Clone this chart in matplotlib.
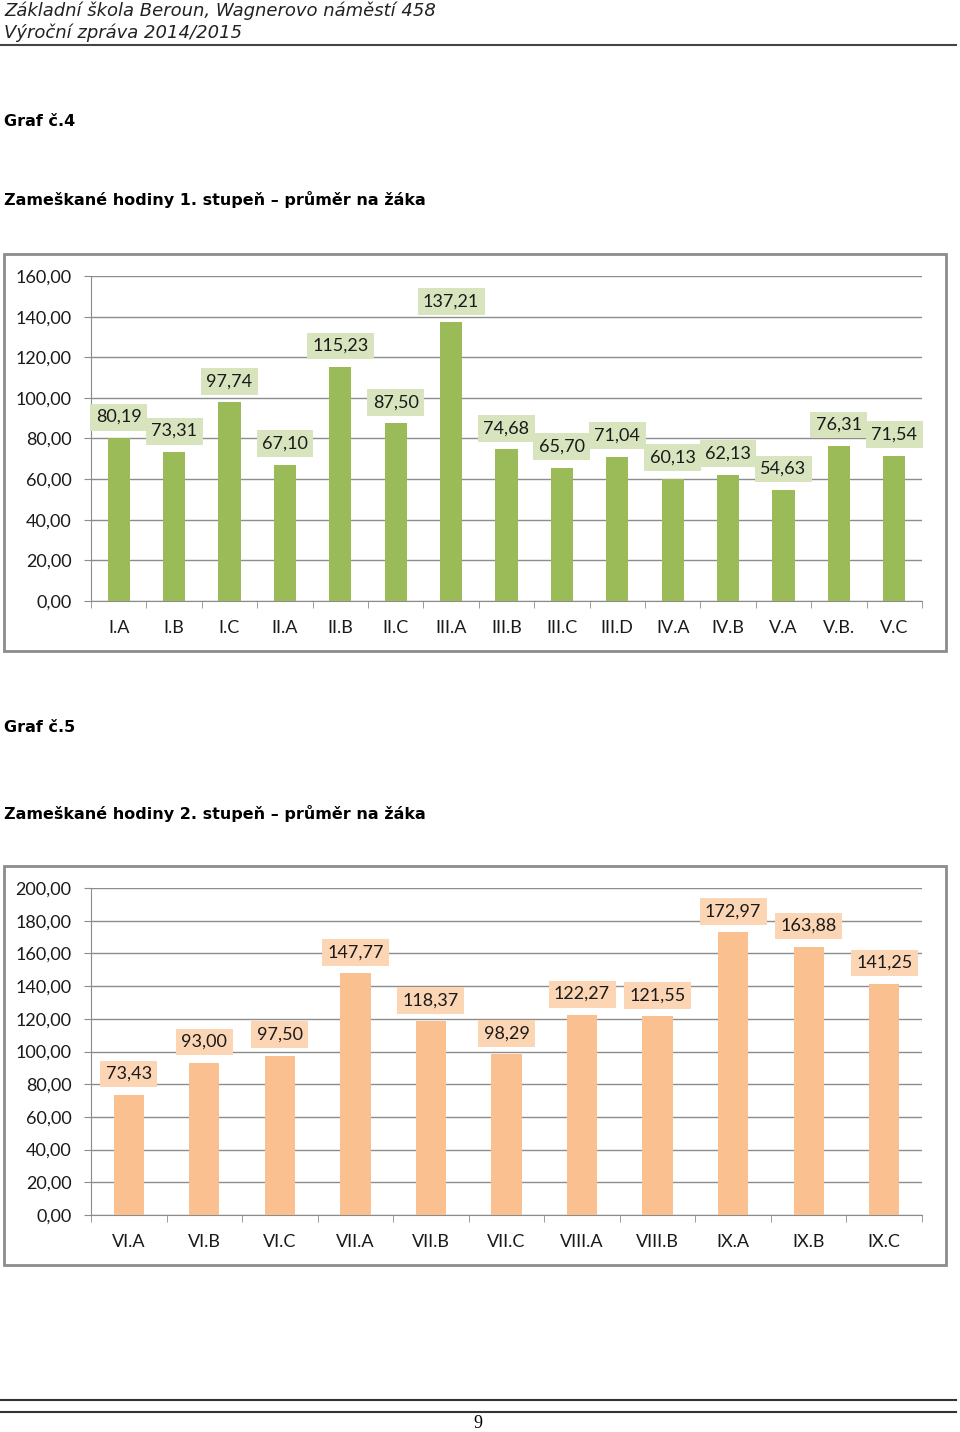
import matplotlib.pyplot as plt
from matplotlib.patches import Rectangle
from matplotlib.lines import Line2D

# data - graph 4 (1st stage)
classes_1 = ['I.A', 'I.B', 'I.C', 'II.A', 'II.B', 'II.C', 'III.A', 'III.B', 'III.C',
             'III.D', 'IV.A', 'IV.B', 'V.A', 'V.B.', 'V.C']
hours_1 = [80.19, 73.31, 97.74, 67.10, 115.23, 87.50, 137.21, 74.68, 65.70,
           71.04, 60.13, 62.13, 54.63, 76.31, 71.54]
yticks_1 = [0, 20, 40, 60, 80, 100, 120, 140, 160]

# data - graph 5 (2nd stage)
classes_2 = ['VI.A', 'VI.B', 'VI.C', 'VII.A', 'VII.B', 'VII.C', 'VIII.A', 'VIII.B',
             'IX.A', 'IX.B', 'IX.C']
hours_2 = [73.43, 93.00, 97.50, 147.77, 118.37, 98.29, 122.27, 121.55, 172.97, 163.88, 141.25]
yticks_2 = [0, 20, 40, 60, 80, 100, 120, 140, 160, 180, 200]

W, H = 960, 1432
fig = plt.figure(figsize=(W / 100, H / 100), dpi=100)
fig.patch.set_facecolor('white')

def fx(px):
    return px / W

def fy(py):
    return 1 - py / H

def cz(v):
    return f"{v:.2f}".replace('.', ',')

# page header
fig.text(fx(4), fy(11), 'Základní škola Beroun, Wagnerovo náměstí 458', fontsize=13,
         style='italic', family='DejaVu Sans', va='center', color='#222222')
fig.text(fx(4), fy(33), 'Výroční zpráva 2014/2015', fontsize=13,
         style='italic', family='DejaVu Sans', va='center', color='#222222')
fig.add_artist(Line2D([0, fx(956)], [fy(45), fy(45)], color='#444444', lw=1.5))

# captions
fig.text(fx(4), fy(122), 'Graf č.4', fontsize=11.5, weight='bold', family='DejaVu Sans', va='center')
fig.text(fx(4), fy(200), 'Zameškané hodiny 1. stupeň – průměr na žáka', fontsize=11.5,
         weight='bold', family='DejaVu Sans', va='center')
fig.text(fx(4), fy(728), 'Graf č.5', fontsize=11.5, weight='bold', family='DejaVu Sans', va='center')
fig.text(fx(4), fy(813), 'Zameškané hodiny 2. stupeň – průměr na žáka', fontsize=11.5,
         weight='bold', family='DejaVu Sans', va='center')

# footer
fig.add_artist(Line2D([0, fx(956)], [fy(1400), fy(1400)], color='#333333', lw=1.5))
fig.add_artist(Line2D([0, fx(956)], [fy(1412), fy(1412)], color='#333333', lw=1.5))
fig.text(fx(478), fy(1424), '9', fontsize=13, family='Liberation Serif', ha='center', va='center')


def draw_chart(frame, area, cats, vals, ticks, bar_color, box_color):
    # outer chart frame
    fl, ft, fr, fb = frame
    fig.add_artist(Rectangle((fx(fl), fy(fb)), fx(fr - fl), fy(ft) - fy(fb),
                             fill=False, edgecolor='#8c8c8c', lw=2))
    l, t, r, b = area
    ax = fig.add_axes([fx(l), fy(b), fx(r - l), fy(t) - fy(b)])
    x = list(range(len(cats)))
    bars = ax.bar(x, vals, width=0.4, color=bar_color, zorder=3)
    ax.set_xlim(-0.5, len(cats) - 0.5)
    ax.set_ylim(ticks[0], ticks[-1])
    ax.set_yticks(ticks)
    ax.set_yticklabels([cz(v) for v in ticks])
    ax.set_xticks(x)
    ax.set_xticklabels(cats)
    ax.set_xticks([i - 0.5 for i in range(len(cats) + 1)], minor=True)
    ax.tick_params(axis='x', which='major', length=0, pad=14)
    ax.tick_params(axis='x', which='minor', length=5, color='#8c8c8c')
    ax.tick_params(axis='y', length=5, color='#8c8c8c', pad=9)
    for lab in ax.get_xticklabels() + ax.get_yticklabels():
        lab.set_family('Lato')
        lab.set_fontsize(13)
        lab.set_color('#1a1a1a')
    ax.grid(axis='y', color='#8c8c8c', lw=1, zorder=0)
    for side in ['top', 'right']:
        ax.spines[side].set_visible(False)
    for side in ['left', 'bottom']:
        ax.spines[side].set_color('#8c8c8c')
    for rect, v in zip(bars, vals):
        ax.annotate(cz(v), xy=(rect.get_x() + rect.get_width() / 2, v),
                    xytext=(0, 21), textcoords='offset pixels', ha='center', va='center',
                    fontsize=13, family='Lato', color='#1a1a1a', zorder=5,
                    bbox=dict(boxstyle='square,pad=0.3', fc=box_color, ec='none'))
    return ax


draw_chart((4, 254, 946, 651), (91, 276, 922, 601), classes_1, hours_1, yticks_1,
           '#9bbb59', '#d7e4bd')
draw_chart((4, 866, 946, 1265), (91, 888, 922, 1215), classes_2, hours_2, yticks_2,
           '#fac090', '#fcd5b5')

plt.savefig('out.png', dpi=100)
